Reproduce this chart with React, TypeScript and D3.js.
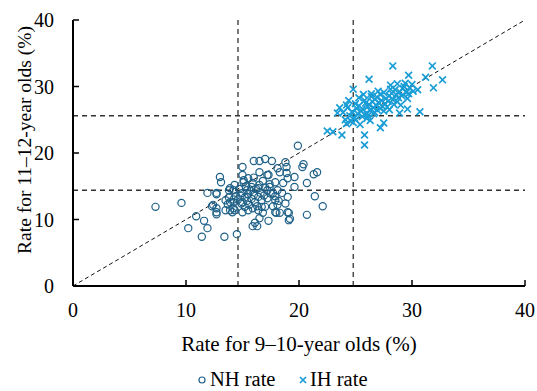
import React from 'react';
import * as d3 from 'd3';

// [rate for 9-10-year olds, rate for 11-12-year olds]
const nhRate: [number, number][] = [
  [7.3, 11.9], [9.6, 12.5], [10.9, 10.5], [11.6, 9.8], [11.9, 8.7], [10.2, 8.7], [11.4, 7.4], [13.4, 7.4],
  [14.5, 7.8], [12.3, 12.0], [12.7, 13.8], [13.0, 16.4], [13.1, 15.6], [12.7, 11.7], [12.7, 11.1], [12.7, 10.8],
  [13.5, 11.4], [13.9, 11.4], [14.3, 11.4], [14.2, 12.6], [13.8, 14.4], [14.3, 15.2], [15.0, 17.9], [15.0, 16.7],
  [15.1, 15.9], [16.0, 18.8], [16.5, 18.8], [17.0, 19.1], [17.6, 18.8], [16.5, 17.1], [17.3, 16.7], [18.1, 17.7],
  [18.3, 17.1], [18.8, 18.6], [18.9, 17.9], [19.9, 21.1], [20.3, 17.9], [20.4, 18.3], [21.3, 16.8], [21.6, 17.1],
  [19.6, 16.4], [20.7, 15.5], [21.4, 13.5], [22.1, 12.0], [20.7, 10.7], [19.1, 11.0], [19.1, 9.9], [17.3, 9.8],
  [16.5, 10.2], [16.1, 9.5], [16.3, 9.0], [16.8, 11.0], [17.0, 11.9], [18.3, 11.0], [18.0, 11.0], [17.7, 12.0],
  [17.9, 12.9], [19.0, 13.4], [18.5, 14.0], [18.9, 17.0], [19.0, 16.2], [19.6, 14.9], [17.9, 15.6], [18.6, 15.5],
  [11.9, 14.0], [13.9, 14.7], [14.2, 14.4], [15.4, 14.4], [15.8, 14.9], [16.4, 14.7], [17.2, 14.4], [17.4, 14.9],
  [18.1, 14.4], [12.4, 12.2], [13.9, 12.6], [14.2, 11.7], [14.1, 11.1], [15.0, 12.6], [15.2, 11.9], [15.0, 11.1],
  [15.5, 11.4], [15.9, 11.7], [16.4, 11.4], [16.7, 11.9], [17.9, 11.1], [18.1, 12.2], [19.0, 11.1], [19.2, 10.1],
  [15.9, 9.0], [17.2, 16.7], [12.7, 14.0], [14.6, 13.0], [14.8, 13.6], [15.0, 14.0], [15.2, 13.3], [15.4, 12.8],
  [15.5, 13.8], [15.7, 14.3], [15.8, 13.1], [16.0, 13.7], [16.1, 12.6], [16.2, 14.6], [16.4, 13.4], [16.6, 14.0],
  [16.7, 12.9], [16.9, 13.6], [17.0, 14.8], [17.2, 13.2], [17.4, 15.3], [15.3, 15.0], [15.9, 15.5], [14.9, 12.4],
  [15.6, 12.2], [16.3, 12.0], [16.8, 15.8], [17.5, 13.9], [14.7, 14.6], [15.1, 15.6], [16.5, 15.2], [17.7, 14.0],
  [17.9, 13.5], [18.2, 12.8], [18.8, 12.4], [14.4, 13.5], [14.2, 13.0], [13.8, 13.3], [13.5, 12.9], [13.7, 12.3],
  [16.0, 16.3], [15.5, 16.2],
];

const ihRate: [number, number][] = [
  [28.3, 33.1], [31.8, 33.1], [26.2, 31.1], [29.7, 31.7], [31.2, 31.4], [32.7, 31.0], [31.9, 29.8], [30.5, 29.5],
  [24.8, 29.6], [23.6, 26.8], [23.4, 26.0], [24.2, 27.2], [23.0, 23.2], [23.8, 22.7], [27.2, 23.8], [25.8, 22.7],
  [25.8, 21.2], [28.9, 26.0], [29.6, 26.6], [30.7, 26.2], [27.5, 24.5], [22.5, 23.3],
  [24.1, 25.0], [23.9, 26.1], [24.2, 24.4], [24.5, 25.6], [24.3, 26.8], [24.6, 24.8], [24.4, 27.9],
  [24.9, 25.3], [24.7, 26.2], [25.0, 27.4], [24.8, 24.6], [25.2, 25.9], [25.1, 26.7], [25.3, 28.3], [25.0, 25.0],
  [25.5, 26.3], [25.3, 27.1], [25.6, 25.5], [25.4, 24.3], [25.8, 25.8], [25.6, 26.6], [25.9, 27.5], [25.7, 28.8],
  [26.0, 26.0], [26.1, 27.0], [25.8, 27.9], [26.0, 25.2], [26.3, 26.4], [26.2, 27.3], [26.4, 28.5], [26.1, 25.6],
  [26.3, 24.9], [26.6, 26.8], [26.5, 27.7], [26.7, 26.1], [26.4, 28.9], [26.8, 27.2], [26.9, 26.5], [26.7, 28.1],
  [26.6, 25.9], [27.1, 27.5], [26.9, 28.4], [27.2, 26.7], [27.0, 29.3], [27.4, 27.0], [27.3, 27.9], [27.2, 28.8],
  [27.5, 26.3], [27.7, 28.2], [27.6, 27.4], [27.5, 29.1], [27.8, 26.9], [28.0, 28.6], [27.9, 27.8], [28.1, 29.6],
  [28.0, 26.5], [28.3, 28.0], [28.2, 29.0], [28.4, 27.3], [28.1, 30.2], [28.6, 28.8], [28.5, 29.5], [28.7, 27.7],
  [28.9, 29.2], [28.8, 28.3], [28.7, 30.4], [29.0, 27.2], [29.2, 29.7], [29.1, 28.6], [29.3, 30.0], [29.5, 29.1],
  [29.4, 30.5], [29.6, 28.2], [29.8, 29.8], [29.7, 28.9], [30.0, 30.3], [30.1, 29.3],
];

const xTicks = [0, 10, 20, 30, 40];
const yTicks = [0, 10, 20, 30, 40];
// reference lines (dashed)
const hLines = [25.6, 14.4];
const vLines = [14.6, 24.8];

const NH_COLOR = '#1f6188';
const IH_COLOR = '#1a9dd6';
const FONT = '"Liberation Serif", "Times New Roman", "DejaVu Serif", serif';

export default function App() {
  const width = 537;
  const height = 391;
  const x = d3.scaleLinear().domain([0, 40]).range([73, 525]);
  const y = d3.scaleLinear().domain([0, 40]).range([286, 20]);
  const dash = '5 4';

  const cross = (cx: number, cy: number, s: number) =>
    `M${cx - s},${cy - s}L${cx + s},${cy + s}M${cx - s},${cy + s}L${cx + s},${cy - s}`;

  return (
    <svg width={width} height={height}
      style={{ position: 'absolute', left: 0, top: 0, background: '#fff', fontFamily: FONT }}>
      {/* reference lines */}
      {hLines.map((v, i) => (
        <line key={'h' + i} x1={x(0)} x2={x(40)} y1={y(v)} y2={y(v)} stroke="#333" strokeWidth={1.3} strokeDasharray={dash} />
      ))}
      {vLines.map((v, i) => (
        <line key={'v' + i} x1={x(v)} x2={x(v)} y1={y(0)} y2={y(40)} stroke="#333" strokeWidth={1.3} strokeDasharray={dash} />
      ))}
      <line x1={x(0)} y1={y(0)} x2={x(40)} y2={y(40)} stroke="#111" strokeWidth={1} strokeDasharray="4 3" />

      {/* NH points */}
      {nhRate.map((d, i) => (
        <circle key={'n' + i} cx={x(d[0])} cy={y(d[1])} r={3.6} fill="none" stroke={NH_COLOR} strokeWidth={1.2} />
      ))}
      {/* IH points */}
      {ihRate.map((d, i) => (
        <path key={'i' + i} d={cross(x(d[0]), y(d[1]), 3.4)} stroke={IH_COLOR} strokeWidth={1.7} fill="none" />
      ))}

      {/* axes */}
      <line x1={x(0)} x2={x(40)} y1={y(0)} y2={y(0)} stroke="#000" strokeWidth={2} />
      <line x1={x(0)} x2={x(0)} y1={y(0)} y2={y(40)} stroke="#000" strokeWidth={2} />
      {xTicks.map(t => (
        <g key={'xt' + t}>
          <line x1={x(t)} x2={x(t)} y1={y(0)} y2={y(0) - 6} stroke="#000" strokeWidth={1.5} />
          <text x={x(t)} y={317} textAnchor="middle" fontSize={20}>{t}</text>
        </g>
      ))}
      {yTicks.map(t => (
        <g key={'yt' + t}>
          <line x1={x(0)} x2={x(0) + 6} y1={y(t)} y2={y(t)} stroke="#000" strokeWidth={1.5} />
          <text x={54} y={y(t) + 7} textAnchor="end" fontSize={20}>{t}</text>
        </g>
      ))}

      <text x={299} y={351} textAnchor="middle" fontSize={21}>Rate for 9–10-year olds (%)</text>
      <text transform="translate(31,140) rotate(-90)" textAnchor="middle" fontSize={19.5}>Rate for 11–12-year olds (%)</text>

      {/* legend */}
      <circle cx={202} cy={380} r={3} fill="none" stroke={NH_COLOR} strokeWidth={1.2} />
      <text x={210} y={386} fontSize={20.5}>NH rate</text>
      <path d={cross(303, 380, 3)} stroke={IH_COLOR} strokeWidth={1.7} />
      <text x={310} y={386} fontSize={20.5}>IH rate</text>
    </svg>
  );
}
